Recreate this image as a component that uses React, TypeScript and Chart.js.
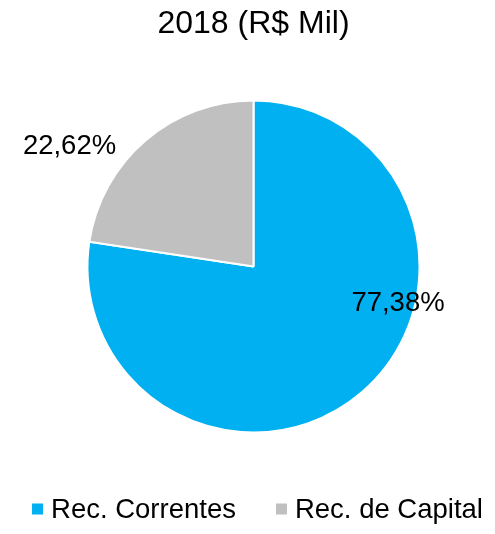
import React, { useEffect, useRef } from "react";
import { Chart, registerables } from "chart.js";

Chart.register(...registerables);

const categories = ["Rec. Correntes", "Rec. de Capital"];
const shares = [77.38, 22.62];
const sliceColors = ["#00B0F0", "#C0C0C0"];
const titleText = "2018 (R$ Mil)";

const FONT = "'Liberation Sans', Arial, Helvetica, sans-serif";

// label placement relative to each arc (angle in degrees, canvas convention; radius factor of outer radius)
const labelPlacement = [
  { angle: 14.2, factor: 0.898 },
  { angle: -146.9, factor: 1.323 },
];

const labelPlugin = {
  id: "sliceLabels",
  afterDatasetsDraw(chart: any) {
    const ctx = chart.ctx;
    const meta = chart.getDatasetMeta(0);
    const data = chart.data.datasets[0].data as number[];
    const total = data.reduce((a, b) => a + b, 0);
    ctx.save();
    ctx.font = `27.5px ${FONT}`;
    ctx.fillStyle = "#000";
    ctx.textAlign = "center";
    ctx.textBaseline = "middle";
    meta.data.forEach((arc: any, i: number) => {
      const p = labelPlacement[i];
      const a = (p.angle * Math.PI) / 180;
      const r = arc.outerRadius * p.factor;
      const x = arc.x + Math.cos(a) * r;
      const y = arc.y + Math.sin(a) * r;
      const txt = ((data[i] / total) * 100).toFixed(2).replace(".", ",") + "%";
      ctx.fillText(txt, x, y);
    });
    ctx.restore();
  },
};

const legendPlugin = {
  id: "bottomLegend",
  afterDraw(chart: any) {
    const ctx = chart.ctx;
    const labels = chart.data.labels as string[];
    const colors = chart.data.datasets[0].backgroundColor as string[];
    const box = 11;
    const boxGap = 8;
    const itemGap = 40;
    ctx.save();
    ctx.font = `27.5px ${FONT}`;
    const widths = labels.map((l) => ctx.measureText(l).width);
    const total =
      widths.reduce((s, w) => s + box + boxGap + w, 0) + itemGap * (labels.length - 1);
    const cx = (chart.chartArea.left + chart.chartArea.right) / 2 + 4;
    const cy = chart.height - 24;
    let x = cx - total / 2;
    labels.forEach((l, i) => {
      ctx.fillStyle = colors[i];
      ctx.fillRect(x, cy - box / 2 - 1, box, box);
      x += box + boxGap;
      ctx.fillStyle = "#000";
      ctx.textAlign = "left";
      ctx.textBaseline = "middle";
      ctx.fillText(l, x, cy);
      x += widths[i] + itemGap;
    });
    ctx.restore();
  },
};

export default function App() {
  const ref = useRef<HTMLCanvasElement>(null);

  useEffect(() => {
    if (!ref.current) return;
    Chart.defaults.font.family = FONT;
    const chart = new Chart(ref.current, {
      type: "pie",
      data: {
        labels: categories,
        datasets: [
          {
            data: shares,
            backgroundColor: sliceColors,
            borderColor: "#ffffff",
            borderWidth: 2,
            radius: 166,
          },
        ],
      },
      options: {
        responsive: false,
        animation: false,
        layout: { padding: { left: 12, right: 0, top: 0, bottom: 50 } },
        plugins: {
          legend: { display: false },
          tooltip: { enabled: false },
          title: {
            display: true,
            text: titleText,
            color: "#000",
            font: { size: 32, weight: "normal", family: FONT },
            padding: { top: 5, bottom: 5.6 },
          },
        },
      },
      plugins: [labelPlugin, legendPlugin],
    });
    return () => chart.destroy();
  }, []);

  return (
    <div style={{ position: "fixed", left: 0, top: 0, width: 495, height: 534, background: "#fff" }}>
      <canvas ref={ref} width={495} height={534} />
    </div>
  );
}
